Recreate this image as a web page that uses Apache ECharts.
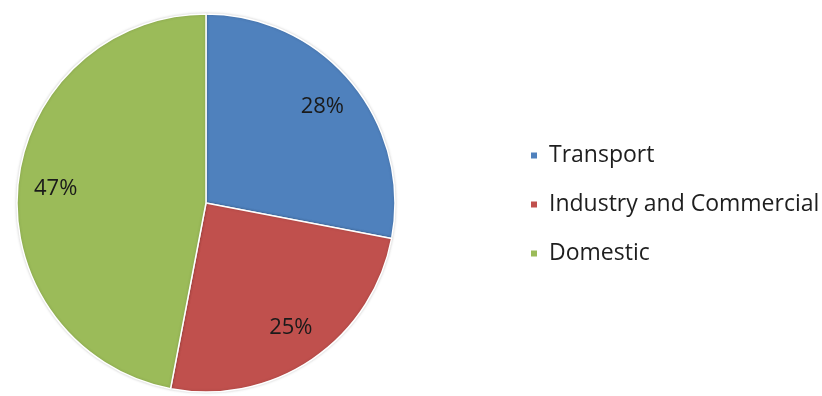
<!DOCTYPE html>
<html>
<head>
<meta charset="utf-8">
<script src="https://cdn.jsdelivr.net/npm/echarts@6/dist/echarts.min.js"></script>
<style>
  html, body { margin: 0; padding: 0; background: #fff; }
  #chart { width: 822px; height: 396px; }
</style>
</head>
<body>
<div id="chart"></div>
<script>
// Energy use by sector (share, %)
const categories = ['Transport', 'Industry and Commercial', 'Domestic'];
const shares = [28, 25, 47];
const colors = ['#4F81BD', '#C0504D', '#9BBB59'];

const pieData = categories.map((name, i) => ({ name, value: shares[i] }));
const center = [206, 203];
const outerR = 189;

const chart = echarts.init(document.getElementById('chart'));
chart.setOption({
  animation: false,
  color: colors,
  legend: {
    orient: 'vertical',
    left: 524,
    top: 139,
    icon: 'rect',
    itemWidth: 8,
    itemHeight: 8,
    itemGap: 26,
    textStyle: { fontFamily: 'Open Sans', fontSize: 23, color: '#1e1e1e', padding: [0, 0, 0, 6] },
    data: categories
  },
  series: [
    {
      type: 'pie',
      center: center,
      radius: [0, outerR],
      startAngle: 90,
      clockwise: true,
      label: { show: false },
      labelLine: { show: false },
      itemStyle: {
        borderColor: '#fff',
        borderWidth: 1.5,
        shadowColor: 'rgba(0,0,0,0.18)',
        shadowBlur: 3
      },
      emphasis: { disabled: true },
      data: pieData
    },
    {
      // transparent ring that carries the percentage labels
      type: 'pie',
      center: center,
      radius: [107, outerR],
      startAngle: 90,
      clockwise: true,
      silent: true,
      itemStyle: { color: 'transparent', borderWidth: 0 },
      label: {
        show: true,
        position: 'inside',
        formatter: '{c}%',
        fontFamily: 'Open Sans',
        fontSize: 22,
        color: '#1a1a1a'
      },
      labelLine: { show: false },
      emphasis: { disabled: true },
      data: pieData
    }
  ]
});
</script>
</body>
</html>
